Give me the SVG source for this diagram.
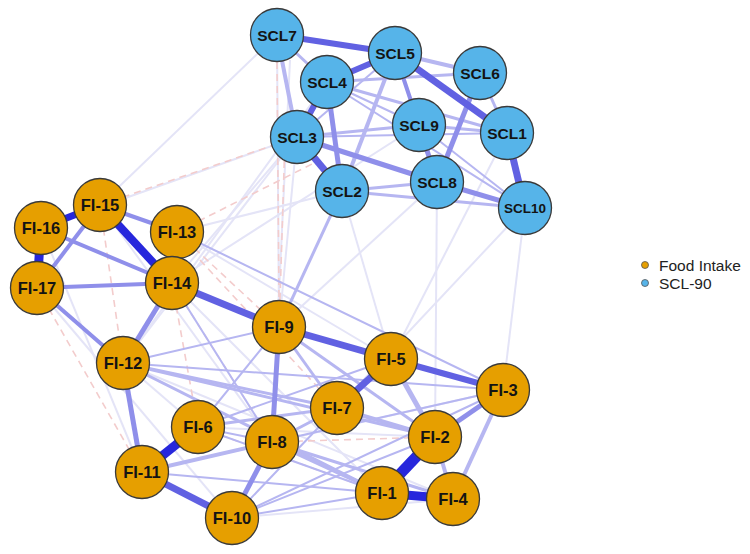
<svg xmlns="http://www.w3.org/2000/svg" width="750" height="554" viewBox="0 0 750 554">
<style>
.n circle{stroke:#3a3a3a;stroke-width:1.3}
.fi circle{fill:#E69F00}
.scl circle{fill:#56B4E9}
.n text{font-family:"Liberation Sans",Arial,sans-serif;font-weight:bold;fill:#141414;text-anchor:middle;dominant-baseline:central}
.fi text{font-size:16.5px}
.scl text{font-size:15.5px}
#edges line{stroke-linecap:butt}
.vf{stroke:#e4e4f7;stroke-width:2}
.rd{stroke:#f3cccc;stroke-width:1.6;stroke-dasharray:7 5}
.lt{stroke:#b6b6f1}
.md{stroke:#8f8fea}
.st{stroke:#6161e2}
.dk{stroke:#2727dc}
.leg{font-family:"Liberation Sans",Arial,sans-serif;font-size:15.5px;fill:#222}
</style>
<rect width="750" height="554" fill="#ffffff"/>
<g id="edges">
<!-- very faint -->
<line class="vf" x1="172" y1="283" x2="297" y2="137"/>
<line class="vf" x1="177" y1="232" x2="342" y2="191"/>
<line class="vf" x1="100" y1="205" x2="277" y2="35"/>
<line class="vf" x1="41" y1="228" x2="297" y2="137"/>
<line class="vf" x1="279" y1="327" x2="277" y2="35"/>
<line class="vf" x1="272" y1="442" x2="290" y2="60"/>
<line class="vf" x1="123" y1="363" x2="297" y2="137"/>
<line class="vf" x1="503" y1="390" x2="525" y2="208"/>
<line class="vf" x1="391" y1="359" x2="507" y2="133"/>
<line class="vf" x1="435" y1="437" x2="437" y2="182"/>
<line class="vf" x1="279" y1="327" x2="437" y2="182"/>
<line class="vf" x1="172" y1="283" x2="419" y2="125"/>
<line class="vf" x1="337" y1="408" x2="525" y2="208"/>
<line class="vf" x1="123" y1="363" x2="327" y2="82"/>
<line class="vf" x1="37" y1="288" x2="198" y2="427"/>
<line class="vf" x1="41" y1="228" x2="142" y2="472"/>
<line class="vf" x1="100" y1="205" x2="272" y2="442"/>
<line class="vf" x1="37" y1="288" x2="232" y2="518"/>
<line class="vf" x1="172" y1="283" x2="382" y2="493"/>
<line class="vf" x1="177" y1="232" x2="391" y2="359"/>
<line class="vf" x1="123" y1="363" x2="453" y2="499"/>
<line class="vf" x1="142" y1="472" x2="503" y2="390"/>
<line class="vf" x1="232" y1="518" x2="453" y2="499"/>
<line class="vf" x1="198" y1="427" x2="435" y2="437"/>
<line class="vf" x1="279" y1="327" x2="503" y2="390"/>
<line class="vf" x1="342" y1="191" x2="391" y2="359"/>
<line class="vf" x1="297" y1="137" x2="279" y2="327"/>
<!-- red dashed -->
<line class="rd" x1="277" y1="62" x2="279" y2="300"/>
<line class="rd" x1="285" y1="137" x2="280" y2="300"/>
<line class="rd" x1="177" y1="232" x2="320" y2="160"/>
<line class="rd" x1="172" y1="283" x2="272" y2="442"/>
<line class="rd" x1="123" y1="363" x2="337" y2="408"/>
<line class="rd" x1="172" y1="283" x2="198" y2="427"/>
<line class="rd" x1="200" y1="260" x2="337" y2="408"/>
<line class="rd" x1="37" y1="288" x2="142" y2="472"/>
<line class="rd" x1="100" y1="205" x2="123" y2="363"/>
<line class="rd" x1="177" y1="232" x2="279" y2="327"/>
<line class="rd" x1="198" y1="427" x2="382" y2="493"/>
<line class="rd" x1="272" y1="442" x2="435" y2="437"/>
<line class="rd" x1="100" y1="205" x2="297" y2="137"/>
<!-- light -->
<line class="lt" stroke-width="4" x1="395" y1="53" x2="480" y2="73"/>
<line class="lt" stroke-width="4" x1="395" y1="53" x2="342" y2="191"/>
<line class="lt" stroke-width="3" x1="342" y1="191" x2="437" y2="182"/>
<line class="lt" stroke-width="3" x1="297" y1="137" x2="419" y2="125"/>
<line class="lt" stroke-width="3" x1="327" y1="82" x2="507" y2="133"/>
<line class="lt" stroke-width="3" x1="327" y1="82" x2="480" y2="73"/>
<line class="lt" stroke-width="3" x1="419" y1="125" x2="507" y2="133"/>
<line class="lt" stroke-width="3" x1="480" y1="73" x2="507" y2="133"/>
<line class="lt" stroke-width="3" x1="342" y1="191" x2="525" y2="208"/>
<line class="lt" stroke-width="2" x1="297" y1="137" x2="507" y2="133"/>
<line class="lt" stroke-width="3" x1="277" y1="35" x2="327" y2="82"/>
<line class="lt" stroke-width="2" x1="419" y1="125" x2="525" y2="208"/>
<line class="lt" stroke-width="2" x1="327" y1="82" x2="419" y2="125"/>
<line class="lt" stroke-width="2" x1="395" y1="53" x2="297" y2="137"/>
<line class="lt" stroke-width="2" x1="327" y1="82" x2="525" y2="208"/>
<line class="lt" stroke-width="3" x1="279" y1="327" x2="342" y2="191"/>
<line class="lt" stroke-width="3" x1="279" y1="327" x2="337" y2="408"/>
<line class="lt" stroke-width="3" x1="279" y1="327" x2="435" y2="437"/>
<line class="lt" stroke-width="3" x1="123" y1="363" x2="337" y2="408"/>
<line class="lt" stroke-width="3" x1="123" y1="363" x2="435" y2="437"/>
<line class="lt" stroke-width="2" x1="123" y1="363" x2="503" y2="390"/>
<line class="lt" stroke-width="3" x1="198" y1="427" x2="337" y2="408"/>
<line class="lt" stroke-width="2" x1="198" y1="427" x2="391" y2="359"/>
<line class="lt" stroke-width="3" x1="272" y1="442" x2="337" y2="408"/>
<line class="lt" stroke-width="2" x1="272" y1="442" x2="503" y2="390"/>
<line class="lt" stroke-width="2" x1="232" y1="518" x2="382" y2="493"/>
<line class="lt" stroke-width="2" x1="232" y1="518" x2="435" y2="437"/>
<line class="lt" stroke-width="2" x1="232" y1="518" x2="503" y2="390"/>
<line class="lt" stroke-width="2" x1="177" y1="232" x2="503" y2="390"/>
<line class="lt" stroke-width="3" x1="123" y1="363" x2="382" y2="493"/>
<line class="lt" stroke-width="2" x1="142" y1="472" x2="382" y2="493"/>
<line class="lt" stroke-width="2" x1="198" y1="427" x2="279" y2="327"/>
<line class="lt" stroke-width="2" x1="172" y1="283" x2="272" y2="442"/>
<line class="lt" stroke-width="2" x1="198" y1="427" x2="382" y2="493"/>
<line class="lt" stroke-width="2" x1="123" y1="363" x2="279" y2="327"/>
<line class="lt" stroke-width="2" x1="198" y1="427" x2="272" y2="442"/>
<line class="lt" stroke-width="2" x1="232" y1="518" x2="337" y2="408"/>
<!-- medium -->
<line class="md" stroke-width="5" x1="297" y1="137" x2="437" y2="182"/>
<line class="md" stroke-width="5" x1="419" y1="125" x2="437" y2="182"/>
<line class="md" stroke-width="5" x1="437" y1="182" x2="525" y2="208"/>
<line class="md" stroke-width="5" x1="480" y1="73" x2="437" y2="182"/>
<line class="md" stroke-width="5" x1="327" y1="82" x2="342" y2="191"/>
<line class="md" stroke-width="4" x1="395" y1="53" x2="419" y2="125"/>
<line class="lt" stroke-width="4" x1="277" y1="35" x2="297" y2="137"/>
<line class="md" stroke-width="5" x1="172" y1="283" x2="123" y2="363"/>
<line class="md" stroke-width="5" x1="123" y1="363" x2="142" y2="472"/>
<line class="md" stroke-width="5" x1="279" y1="327" x2="272" y2="442"/>
<line class="md" stroke-width="5" x1="272" y1="442" x2="232" y2="518"/>
<line class="md" stroke-width="5" x1="503" y1="390" x2="435" y2="437"/>
<line class="lt" stroke-width="5" x1="391" y1="359" x2="435" y2="437"/>
<line class="md" stroke-width="4" x1="100" y1="205" x2="177" y2="232"/>
<line class="md" stroke-width="4" x1="100" y1="205" x2="37" y2="288"/>
<line class="md" stroke-width="4" x1="41" y1="228" x2="172" y2="283"/>
<line class="md" stroke-width="4" x1="37" y1="288" x2="172" y2="283"/>
<line class="md" stroke-width="4" x1="37" y1="288" x2="123" y2="363"/>
<line class="lt" stroke-width="4" x1="503" y1="390" x2="453" y2="499"/>
<line class="lt" stroke-width="4" x1="435" y1="437" x2="453" y2="499"/>
<line class="lt" stroke-width="4" x1="142" y1="472" x2="272" y2="442"/>
<line class="lt" stroke-width="4" x1="337" y1="408" x2="435" y2="437"/>
<line class="lt" stroke-width="4" x1="272" y1="442" x2="382" y2="493"/>
<line class="lt" stroke-width="3" x1="272" y1="442" x2="453" y2="499"/>
<!-- strong -->
<line class="st" stroke-width="7" x1="172" y1="283" x2="279" y2="327"/>
<line class="st" stroke-width="7" x1="279" y1="327" x2="391" y2="359"/>
<line class="st" stroke-width="7" x1="337" y1="408" x2="391" y2="359" stroke="#4646df"/>
<line class="st" stroke-width="7" x1="142" y1="472" x2="232" y2="518" stroke="#4b4be0"/>
<line class="st" stroke-width="7" x1="395" y1="53" x2="507" y2="133" stroke="#6a6ae3"/>
<line class="st" stroke-width="7" x1="507" y1="133" x2="525" y2="208" stroke="#4c4ce0"/>
<line class="st" stroke-width="7" x1="297" y1="137" x2="342" y2="191" stroke="#4c4ce0"/>
<line class="st" stroke-width="6" x1="327" y1="82" x2="297" y2="137" stroke="#5656e0"/>
<line class="st" stroke-width="6" x1="395" y1="53" x2="327" y2="82" stroke="#5656e0"/>
<line class="st" stroke-width="6" x1="277" y1="35" x2="395" y2="53" stroke="#7272e5"/>
<line class="st" stroke-width="6" x1="391" y1="359" x2="503" y2="390" stroke="#6c6ce4"/>
<!-- dark -->
<line class="dk" stroke-width="8" x1="100" y1="205" x2="172" y2="283" stroke="#3e3edd"/>
<line class="dk" stroke-width="7" x1="41" y1="228" x2="100" y2="205" stroke="#3535dc"/>
<line class="dk" stroke-width="9" x1="41" y1="228" x2="37" y2="288"/>
<line class="dk" stroke-width="9" x1="198" y1="427" x2="142" y2="472" stroke="#3131dc"/>
<line class="dk" stroke-width="9" x1="382" y1="493" x2="453" y2="499" stroke="#3333dc"/>
<line class="dk" stroke-width="11" x1="435" y1="437" x2="382" y2="493" stroke="#1c1cdb"/>
</g>
<g id="SCL7" class="n scl"><circle cx="277" cy="35" r="26.5"/><text x="277" y="35">SCL7</text></g>
<g id="SCL5" class="n scl"><circle cx="395" cy="53" r="26.5"/><text x="395" y="53">SCL5</text></g>
<g id="SCL6" class="n scl"><circle cx="480" cy="73" r="26.5"/><text x="480" y="73">SCL6</text></g>
<g id="SCL4" class="n scl"><circle cx="327" cy="82" r="26.5"/><text x="327" y="82">SCL4</text></g>
<g id="SCL9" class="n scl"><circle cx="419" cy="125" r="26.5"/><text x="419" y="125">SCL9</text></g>
<g id="SCL1" class="n scl"><circle cx="507" cy="133" r="26.5"/><text x="507" y="133">SCL1</text></g>
<g id="SCL3" class="n scl"><circle cx="297" cy="137" r="26.5"/><text x="297" y="137">SCL3</text></g>
<g id="SCL8" class="n scl"><circle cx="437" cy="182" r="26.5"/><text x="437" y="182">SCL8</text></g>
<g id="SCL2" class="n scl"><circle cx="342" cy="191" r="26.5"/><text x="342" y="191">SCL2</text></g>
<g id="SCL10" class="n scl"><circle cx="525" cy="208" r="26.5"/><text x="525" y="208" style="font-size:13.5px">SCL10</text></g>
<g id="FI-15" class="n fi"><circle cx="100" cy="205" r="26.5"/><text x="100" y="205">FI-15</text></g>
<g id="FI-16" class="n fi"><circle cx="41" cy="228" r="26.5"/><text x="41" y="228">FI-16</text></g>
<g id="FI-13" class="n fi"><circle cx="177" cy="232" r="26.5"/><text x="177" y="232">FI-13</text></g>
<g id="FI-17" class="n fi"><circle cx="37" cy="288" r="26.5"/><text x="37" y="288">FI-17</text></g>
<g id="FI-14" class="n fi"><circle cx="172" cy="283" r="26.5"/><text x="172" y="283">FI-14</text></g>
<g id="FI-9" class="n fi"><circle cx="279" cy="327" r="26.5"/><text x="279" y="327">FI-9</text></g>
<g id="FI-12" class="n fi"><circle cx="123" cy="363" r="26.5"/><text x="123" y="363">FI-12</text></g>
<g id="FI-5" class="n fi"><circle cx="391" cy="359" r="26.5"/><text x="391" y="359">FI-5</text></g>
<g id="FI-3" class="n fi"><circle cx="503" cy="390" r="26.5"/><text x="503" y="390">FI-3</text></g>
<g id="FI-7" class="n fi"><circle cx="337" cy="408" r="26.5"/><text x="337" y="408">FI-7</text></g>
<g id="FI-6" class="n fi"><circle cx="198" cy="427" r="26.5"/><text x="198" y="427">FI-6</text></g>
<g id="FI-2" class="n fi"><circle cx="435" cy="437" r="26.5"/><text x="435" y="437">FI-2</text></g>
<g id="FI-8" class="n fi"><circle cx="272" cy="442" r="26.5"/><text x="272" y="442">FI-8</text></g>
<g id="FI-11" class="n fi"><circle cx="142" cy="472" r="26.5"/><text x="142" y="472">FI-11</text></g>
<g id="FI-1" class="n fi"><circle cx="382" cy="493" r="26.5"/><text x="382" y="493">FI-1</text></g>
<g id="FI-4" class="n fi"><circle cx="453" cy="499" r="26.5"/><text x="453" y="499">FI-4</text></g>
<g id="FI-10" class="n fi"><circle cx="232" cy="518" r="26.5"/><text x="232" y="518">FI-10</text></g>
<g id="legend">
<circle cx="645" cy="265" r="3.5" fill="#E69F00" stroke="#555" stroke-width="0.8"/>
<text class="leg" x="659" y="271">Food Intake</text>
<circle cx="645" cy="283" r="3.5" fill="#56B4E9" stroke="#555" stroke-width="0.8"/>
<text class="leg" x="659" y="289">SCL-90</text>
</g>
</svg>
